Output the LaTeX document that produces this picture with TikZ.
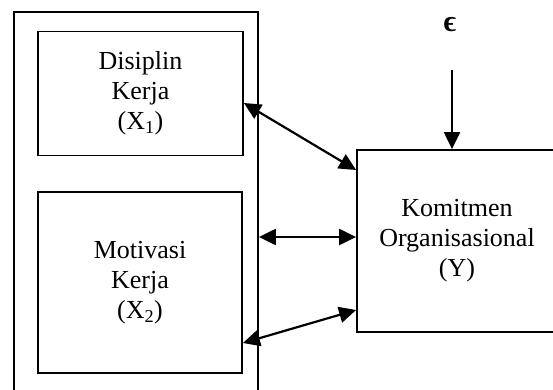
\documentclass[tikz,border=0pt]{standalone}
\usepackage{fontspec}
\setmainfont{Liberation Serif}
\usetikzlibrary{arrows.meta,calc}
\newcommand{\bigtxt}{\fontsize{26}{30}\selectfont}
\newcommand{\epstxt}{\fontsize{30}{34}\selectfont\bfseries}
\begin{document}
\begin{tikzpicture}[x=1pt,y=-1pt,
  box/.style={draw,line width=1.8pt,rectangle,inner sep=0pt,align=center,font=\bigtxt},
  conn/.style={line width=2.2pt,{Triangle[length=17pt,width=16pt]}-{Triangle[length=17pt,width=16pt]}},
  onearrow/.style={line width=2.2pt,-{Triangle[length=17pt,width=16pt]}}]
\useasboundingbox (0,0) rectangle (553,390);
\node[box,minimum width=244pt,minimum height=400pt] (outer) at (136,212) {};
\node[box,minimum width=205pt,minimum height=124pt] (b1) at (140.5,93.5) {Disiplin\\Kerja\\(X\textsubscript{1})};
\node[box,minimum width=204pt,minimum height=181pt] (b2) at (140,282.5) {Motivasi\\Kerja\\(X\textsubscript{2})};
\node[box,minimum width=200pt,minimum height=182pt] (yb) at (457,241) {Komitmen\\Organisasional\\(Y)};
\node[font=\epstxt,inner sep=0pt] (eps) at (450,25) {ϵ};
\coordinate (etop) at (452,70);
\draw[onearrow] (etop) -- (etop |- yb.north);
\coordinate (a1s) at (b1.east |- 0,103);
\coordinate (a1e) at (yb.west |- 0,170);
\coordinate (a2s) at (outer.east |- 0,237);
\coordinate (a2e) at (yb.west |- 0,237);
\coordinate (a3s) at (b2.east |- 0,343);
\coordinate (a3e) at (yb.west |- 0,310);
\draw[conn] (a1s) -- (a1e);
\draw[conn] (a2s) -- (a2e);
\draw[conn] (a3s) -- (a3e);
\end{tikzpicture}
\end{document}
